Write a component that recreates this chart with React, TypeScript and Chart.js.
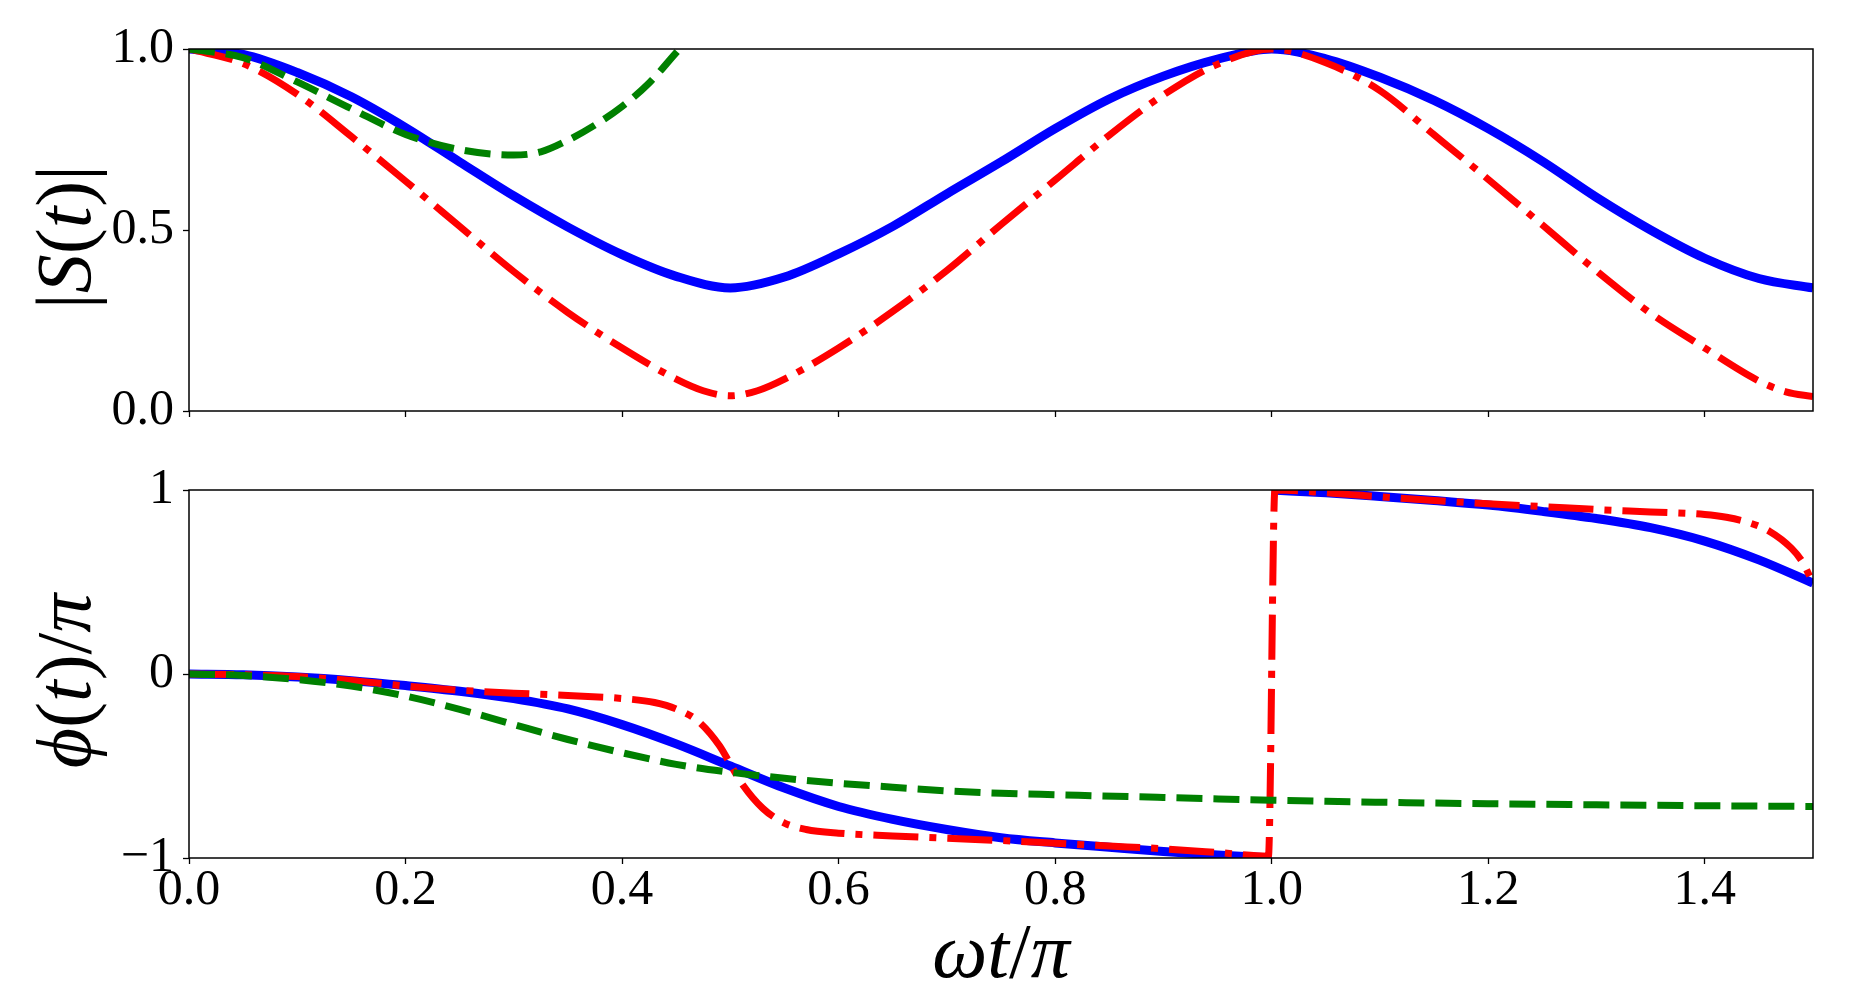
import { useEffect, useRef } from "react";
import { Chart, registerables } from "chart.js";

Chart.register(...registerables);

// top panel: |S(t)| against ωt/π
const magX = [
  0, 0.05, 0.1, 0.15, 0.2, 0.25, 0.3, 0.35, 0.4, 0.45, 0.5, 0.55, 0.6, 0.65, 0.7, 0.75,
  0.8, 0.85, 0.9, 0.95, 1.0, 1.05, 1.1, 1.15, 1.2, 1.25, 1.3, 1.35, 1.4, 1.45, 1.5,
];
const magBlue = [
  1.0, 0.985, 0.935, 0.868, 0.783, 0.688, 0.594, 0.508, 0.432, 0.372, 0.34, 0.37, 0.434, 0.51, 0.6, 0.688,
  0.78, 0.862, 0.925, 0.972, 1.0, 0.973, 0.922, 0.858, 0.78, 0.69, 0.59, 0.5, 0.422, 0.366, 0.34,
];
const magRedX = [
  0, 0.05, 0.1, 0.15, 0.2, 0.25, 0.3, 0.35, 0.4, 0.45, 0.475, 0.5, 0.525, 0.55, 0.6, 0.65, 0.7,
  0.75, 0.8, 0.85, 0.9, 0.95, 1.0, 1.05, 1.1, 1.15, 1.2, 1.25, 1.3, 1.35, 1.4, 1.45, 1.475, 1.5,
];
const magRed = [
  1.0, 0.96, 0.875, 0.758, 0.635, 0.51, 0.385, 0.272, 0.174, 0.088, 0.056, 0.042, 0.056, 0.088, 0.174, 0.275, 0.388,
  0.515, 0.638, 0.762, 0.873, 0.958, 1.0, 0.962, 0.885, 0.763, 0.64, 0.514, 0.387, 0.27, 0.174, 0.083, 0.053, 0.04,
];
const magGreenX = [0, 0.05, 0.1, 0.15, 0.2, 0.25, 0.3, 0.325, 0.35, 0.375, 0.4, 0.425, 0.45, 0.465];
const magGreen = [1.0, 0.976, 0.909, 0.835, 0.764, 0.722, 0.707, 0.716, 0.748, 0.79, 0.841, 0.906, 0.99, 1.04];

// bottom panel: φ(t)/π against ωt/π (blue wraps at 1.0 without a connecting stroke)
const phBlueX = [
  0, 0.05, 0.1, 0.15, 0.2, 0.25, 0.3, 0.35, 0.4, 0.45, 0.5, 0.55, 0.6, 0.65, 0.7, 0.75, 0.8, 0.85, 0.9, 0.95, 1.0,
  1.0,
  1.0, 1.05, 1.1, 1.15, 1.2, 1.25, 1.3, 1.35, 1.4, 1.45, 1.5,
];
const phBlue = [
  0, -0.004, -0.016, -0.036, -0.063, -0.094, -0.134, -0.19, -0.275, -0.38, -0.5, -0.62, -0.72, -0.79, -0.845, -0.89,
  -0.918, -0.942, -0.965, -0.984, -1.0,
  null,
  1.0, 0.985, 0.965, 0.943, 0.918, 0.884, 0.845, 0.795, 0.722, 0.62, 0.494,
];
const phRedX = [
  0, 0.05, 0.1, 0.15, 0.2, 0.25, 0.3, 0.35, 0.4, 0.43, 0.45, 0.47, 0.49, 0.5, 0.51, 0.53, 0.55, 0.57, 0.6, 0.65, 0.7,
  0.75, 0.8, 0.85, 0.9, 0.95, 0.997, 1.003, 1.05, 1.1, 1.15, 1.2, 1.25, 1.3, 1.35, 1.4, 1.42, 1.44, 1.46, 1.48, 1.49, 1.5,
];
const phRed = [
  0, -0.004, -0.014, -0.035, -0.065, -0.088, -0.104, -0.117, -0.133, -0.155, -0.19, -0.255, -0.39, -0.49, -0.59, -0.73,
  -0.81, -0.845, -0.865, -0.88, -0.893, -0.905, -0.92, -0.935, -0.95, -0.97, -0.99, 1.0, 0.985, 0.963, 0.943, 0.925,
  0.91, 0.894, 0.881, 0.867, 0.852, 0.824, 0.775, 0.684, 0.611, 0.494,
];
const phGreenX = [
  0, 0.05, 0.1, 0.15, 0.2, 0.25, 0.3, 0.35, 0.4, 0.45, 0.5, 0.55, 0.6, 0.65, 0.7, 0.75, 0.8, 0.9, 1.0, 1.1, 1.2, 1.3, 1.4, 1.5,
];
const phGreen = [
  0, -0.008, -0.03, -0.066, -0.12, -0.192, -0.275, -0.356, -0.428, -0.491, -0.534, -0.567, -0.594, -0.615, -0.635,
  -0.648, -0.656, -0.671, -0.686, -0.697, -0.705, -0.711, -0.716, -0.72,
];

const xTicksStep = 0.2;
const magTickStep = 0.5;
const phTickStep = 1;

// axis titles as [text, italic] pieces, like the TeX labels
type Seg = [string, boolean];
const magTitle: Seg[] = [["|", false], ["S", true], ["(", false], ["t", true], [")", false], ["|", false]];
const phTitle: Seg[] = [["\u03D5", true], ["(", false], ["t", true], [")", false], ["/", false], ["\u03C0", true]];
const timeTitle: Seg[] = [["\u03C9", true], ["t", true], ["/", false], ["\u03C0", true]];

const SERIF = "'Liberation Serif', 'DejaVu Serif', serif";
const W = 1853;
const TOP_H = 445;
const BOTTOM_H = 539;
const TITLE_SIZE = 78;

const pts = (xs: number[], ys: (number | null)[]) => xs.map((x, i) => ({ x, y: ys[i] }));

const framePlugin = {
  id: "frame",
  afterDraw(chart: Chart) {
    const { ctx, chartArea: a } = chart;
    ctx.save();
    ctx.strokeStyle = "#000";
    ctx.lineWidth = 1.5;
    ctx.strokeRect(a.left, a.top, a.right - a.left, a.bottom - a.top);
    ctx.restore();
  },
};

function drawSegs(ctx: CanvasRenderingContext2D, segs: Seg[]) {
  const fonts = segs.map(([, it]) => `${it ? "italic " : ""}${TITLE_SIZE}px ${SERIF}`);
  const widths = segs.map(([t], i) => {
    ctx.font = fonts[i];
    return ctx.measureText(t).width;
  });
  let x = -widths.reduce((s, w) => s + w, 0) / 2;
  segs.forEach(([t], i) => {
    ctx.font = fonts[i];
    ctx.fillText(t, x, 0);
    x += widths[i];
  });
}

function titlesPlugin(ySegs: Seg[], xSegs: Seg[] | null, xBaseline = 0) {
  return {
    id: "mathTitles",
    afterDraw(chart: Chart) {
      const { ctx, chartArea: a } = chart;
      ctx.save();
      ctx.fillStyle = "#000";
      ctx.textBaseline = "alphabetic";
      ctx.save();
      ctx.translate(90, (a.top + a.bottom) / 2 + 7);
      ctx.rotate(-Math.PI / 2);
      drawSegs(ctx, ySegs);
      ctx.restore();
      if (xSegs) {
        ctx.save();
        ctx.translate((a.left + a.right) / 2, xBaseline);
        drawSegs(ctx, xSegs);
        ctx.restore();
      }
      ctx.restore();
    },
  };
}

function line(data: any[], color: string, dash: number[], width: number, order: number) {
  return {
    data,
    borderColor: color,
    backgroundColor: color,
    borderWidth: width,
    borderDash: dash,
    borderCapStyle: "butt" as const,
    pointRadius: 0,
    fill: false,
    spanGaps: false,
    cubicInterpolationMode: "monotone" as const,
    clip: 0,
    order,
  };
}

function panelConfig(opts: {
  datasets: any[];
  yMin: number;
  yMax: number;
  yStep: number;
  yFormat: (v: number) => string;
  showX: boolean;
  padTop: number;
  xHeight: number;
  titles: any;
}): any {
  const tickFont = { family: SERIF, size: 50, lineHeight: 1 };
  const grid = {
    drawOnChartArea: false,
    drawTicks: true,
    tickLength: 6,
    color: "#000",
    tickColor: "#000",
    tickWidth: 1.3,
  };
  return {
    type: "line",
    data: { datasets: opts.datasets },
    plugins: [framePlugin, opts.titles],
    options: {
      animation: false,
      responsive: false,
      devicePixelRatio: 1,
      layout: { padding: { top: opts.padTop, right: 40, bottom: 0, left: 0 } },
      plugins: { legend: { display: false }, tooltip: { enabled: false } },
      scales: {
        x: {
          type: "linear",
          min: 0,
          max: 1.5,
          ticks: {
            stepSize: xTicksStep,
            includeBounds: false,
            autoSkip: false,
            maxRotation: 0,
            display: opts.showX,
            color: "#000",
            padding: 2,
            font: tickFont,
            callback: (v: any) => Number(v).toFixed(1),
          },
          grid,
          border: { display: false },
          afterFit: (s: any) => {
            s.height = opts.xHeight;
          },
        },
        y: {
          type: "linear",
          min: opts.yMin,
          max: opts.yMax,
          ticks: {
            stepSize: opts.yStep,
            color: "#000",
            padding: 9,
            font: tickFont,
            callback: (v: any) => opts.yFormat(Number(v)),
          },
          grid,
          border: { display: false },
          afterFit: (s: any) => {
            s.width = 189;
          },
        },
      },
    },
  };
}

export default function App() {
  const topRef = useRef<HTMLCanvasElement>(null);
  const bottomRef = useRef<HTMLCanvasElement>(null);

  useEffect(() => {
    if (!topRef.current || !bottomRef.current) return;

    const top = new Chart(
      topRef.current,
      panelConfig({
        datasets: [
          line(pts(magGreenX, magGreen), "#008000", [26, 11], 7, 0),
          line(pts(magRedX, magRed), "#ff0000", [45, 11, 7, 11], 7, 1),
          line(pts(magX, magBlue), "#0000ff", [], 9, 2),
        ],
        yMin: 0,
        yMax: 1,
        yStep: magTickStep,
        yFormat: v => v.toFixed(1),
        showX: false,
        padTop: 49,
        xHeight: TOP_H - 417,
        titles: titlesPlugin(magTitle, null),
      })
    );

    const bottom = new Chart(
      bottomRef.current,
      panelConfig({
        datasets: [
          line(pts(phGreenX, phGreen), "#008000", [26, 11], 7, 0),
          line(pts(phRedX, phRed), "#ff0000", [45, 11, 7, 11], 7, 1),
          line(pts(phBlueX, phBlue), "#0000ff", [], 9, 2),
        ],
        yMin: -1,
        yMax: 1,
        yStep: phTickStep,
        yFormat: v => (v < 0 ? "\u2212" + Math.abs(v) : String(v)),
        showX: true,
        padTop: 40,
        xHeight: 131,
        titles: titlesPlugin(phTitle, timeTitle, 977 - 450),
      })
    );

    return () => {
      top.destroy();
      bottom.destroy();
    };
  }, []);

  return (
    <div style={{ position: "absolute", left: 0, top: 0, width: W, height: 989, background: "#fff" }}>
      <canvas
        ref={topRef}
        width={W}
        height={TOP_H}
        style={{ position: "absolute", left: 0, top: 0, width: W, height: TOP_H }}
      ></canvas>
      <canvas
        ref={bottomRef}
        width={W}
        height={BOTTOM_H}
        style={{ position: "absolute", left: 0, top: 450, width: W, height: BOTTOM_H }}
      ></canvas>
    </div>
  );
}
